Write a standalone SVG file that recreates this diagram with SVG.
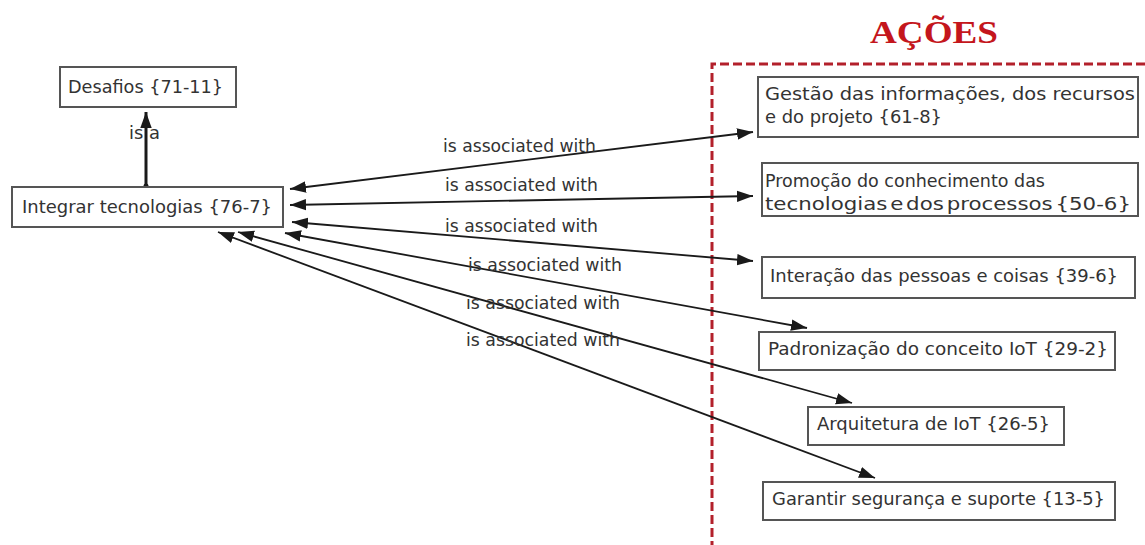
<svg xmlns="http://www.w3.org/2000/svg" width="1145" height="545" viewBox="0 0 1145 545">
<style>
.bg{fill:#ffffff}
.node rect{fill:#ffffff;stroke:#555555;stroke-width:2}
.node text,.lbl{font-family:"DejaVu Sans Condensed","DejaVu Sans",sans-serif;font-stretch:condensed;fill:#333333}
.node text{font-size:18px}
.lbl{font-size:17px}
.conn line{stroke:#1a1a1a;stroke-width:1.8;fill:none}
.title{font-family:"Liberation Serif","Times New Roman",serif;font-weight:bold;font-size:31px;fill:#c4161c}
.frame{fill:none;stroke:#b3202b;stroke-width:3;stroke-dasharray:9 4}
</style>
<defs>
<marker id="ah" markerUnits="userSpaceOnUse" markerWidth="16" markerHeight="12" refX="14" refY="5" orient="auto-start-reverse" viewBox="0 0 14 10">
<path d="M0,0 L14,5 L0,10 z" fill="#1a1a1a"/>
</marker>
<marker id="ahb" markerUnits="userSpaceOnUse" markerWidth="16" markerHeight="14" refX="14" refY="5" orient="auto" viewBox="0 0 14 10">
<path d="M0,0 L14,5 L0,10 z" fill="#1a1a1a"/>
</marker>
</defs>
<rect class="bg" x="0" y="0" width="1145" height="545"/>
<text class="title" x="870" y="43" textLength="128" lengthAdjust="spacingAndGlyphs">AÇÕES</text>
<path class="frame" d="M1145 64 H712 V545"/>

<g id="connectors" class="conn">
<line x1="146" y1="186" x2="146" y2="112" style="stroke-width:3" marker-end="url(#ahb)"/>
<circle cx="146" cy="186" r="2.5" fill="#1a1a1a"/>
<line x1="290" y1="189" x2="753" y2="132" marker-start="url(#ah)" marker-end="url(#ah)"/>
<line x1="290" y1="205" x2="753" y2="196" marker-start="url(#ah)" marker-end="url(#ah)"/>
<line x1="292" y1="222" x2="753" y2="261" marker-start="url(#ah)" marker-end="url(#ah)"/>
<line x1="285" y1="233" x2="807" y2="328" marker-start="url(#ah)" marker-end="url(#ah)"/>
<line x1="238" y1="232" x2="852" y2="403" marker-start="url(#ah)" marker-end="url(#ah)"/>
<line x1="218" y1="232" x2="875" y2="478" marker-start="url(#ah)" marker-end="url(#ah)"/>
<text class="lbl" x="129" y="139" textLength="31" lengthAdjust="spacingAndGlyphs">is a</text>
<text class="lbl" x="443" y="152" textLength="153" lengthAdjust="spacingAndGlyphs">is associated with</text>
<text class="lbl" x="445" y="191" textLength="153" lengthAdjust="spacingAndGlyphs">is associated with</text>
<text class="lbl" x="445" y="232" textLength="153" lengthAdjust="spacingAndGlyphs">is associated with</text>
<text class="lbl" x="468" y="271" textLength="154" lengthAdjust="spacingAndGlyphs">is associated with</text>
<text class="lbl" x="466" y="309" textLength="154" lengthAdjust="spacingAndGlyphs">is associated with</text>
<text class="lbl" x="466" y="346" textLength="154" lengthAdjust="spacingAndGlyphs">is associated with</text>
</g>

<g id="desafios" class="node">
<rect x="60" y="67" width="176" height="40"/>
<text x="68" y="93" textLength="155" lengthAdjust="spacingAndGlyphs">Desafios {71-11}</text>
</g>
<g id="integrar" class="node">
<rect x="12" y="187" width="271" height="40"/>
<text x="22" y="213" textLength="250" lengthAdjust="spacingAndGlyphs">Integrar tecnologias {76-7}</text>
</g>
<g id="gestao" class="node">
<rect x="758" y="77" width="380" height="60"/>
<text x="765" y="100" textLength="370" lengthAdjust="spacingAndGlyphs">Gestão das informações, dos recursos</text>
<text x="765" y="123" textLength="177" lengthAdjust="spacingAndGlyphs">e do projeto {61-8}</text>
</g>
<g id="promocao" class="node">
<rect x="762" y="163" width="376" height="53"/>
<text x="765" y="187" textLength="280" lengthAdjust="spacingAndGlyphs">Promoção do conhecimento das</text>
<text x="765" y="210" textLength="366" lengthAdjust="spacingAndGlyphs" style="word-spacing:-3px">tecnologias e dos processos {50-6}</text>
</g>
<g id="interacao" class="node">
<rect x="762" y="257" width="373" height="41"/>
<text x="770" y="282" textLength="348" lengthAdjust="spacingAndGlyphs">Interação das pessoas e coisas {39-6}</text>
</g>
<g id="padronizacao" class="node">
<rect x="759" y="332" width="356" height="38"/>
<text x="768" y="355" textLength="340" lengthAdjust="spacingAndGlyphs">Padronização do conceito IoT {29-2}</text>
</g>
<g id="arquitetura" class="node">
<rect x="808" y="407" width="256" height="38"/>
<text x="817" y="430" textLength="233" lengthAdjust="spacingAndGlyphs">Arquitetura de IoT {26-5}</text>
</g>
<g id="garantir" class="node">
<rect x="763" y="482" width="352" height="38"/>
<text x="772" y="505" textLength="333" lengthAdjust="spacingAndGlyphs">Garantir segurança e suporte {13-5}</text>
</g>
</svg>
